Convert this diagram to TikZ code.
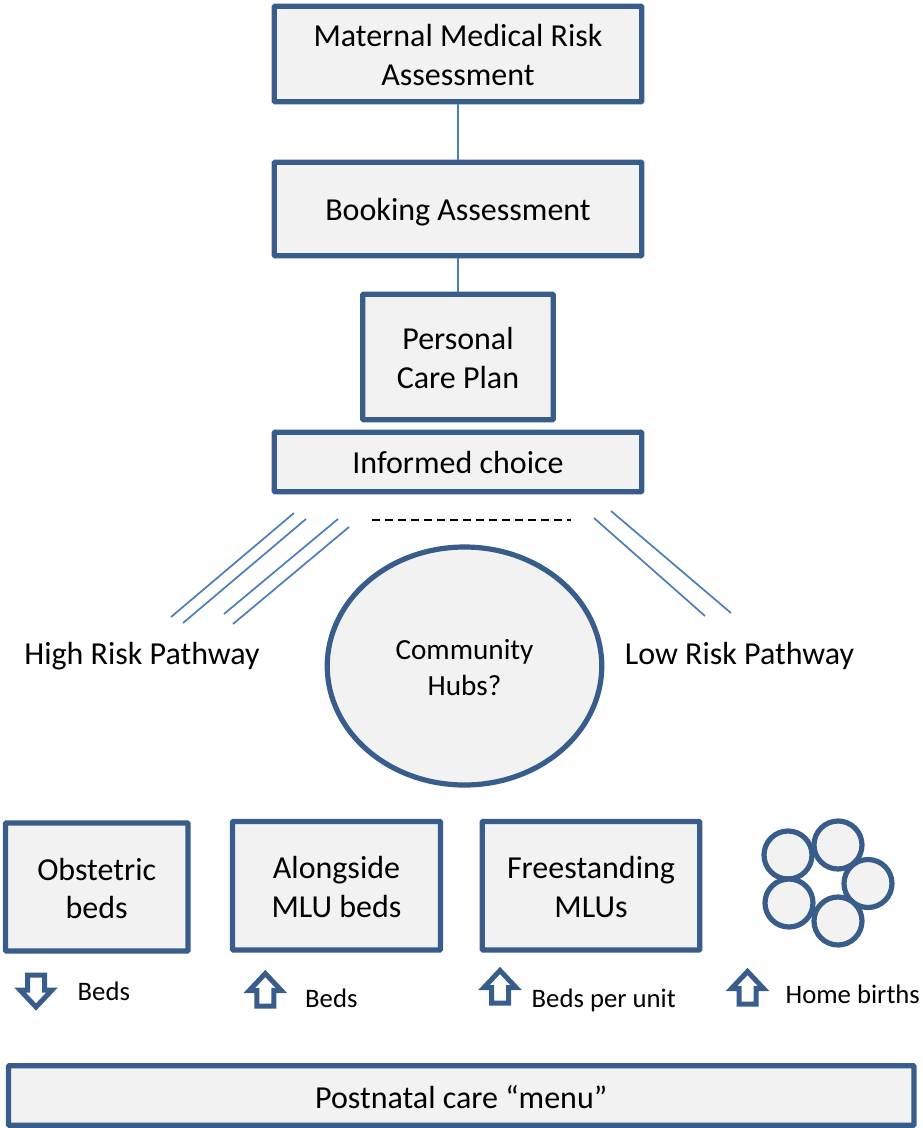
\documentclass[tikz,border=0pt]{standalone}
\usepackage{fontspec}
\setmainfont{Carlito}
\usetikzlibrary{shapes.geometric}
\definecolor{frame}{HTML}{385D8A}
\definecolor{boxfill}{HTML}{F2F2F2}
\definecolor{thin}{HTML}{4A7EBB}
\tikzset{
 x=1pt,y=-1pt,
 box/.style={draw=frame,fill=boxfill,line width=5.2pt,rounded corners=0.8pt,inner sep=0pt},
 boxtext/.style={inner sep=0pt,align=center,font=\fontsize{32}{38.5}\selectfont},
 hub/.style={ellipse,draw=frame,fill=boxfill,line width=5.2pt,inner sep=0pt},
 bead/.style={circle,draw=frame,fill=boxfill,line width=5.2pt,minimum size=48pt,inner sep=0pt},
 biglabel/.style={inner sep=0pt,font=\fontsize{32}{38}\selectfont},
 smalllabel/.style={inner sep=0pt,anchor=base west,font=\fontsize{26.7}{30}\selectfont},
 link/.style={draw=thin,line width=1.7pt},
 blockarrow/.style={draw=frame,fill=white,line width=5pt,miter limit=10},
}
\newcommand{\upblock}[2]{\draw[blockarrow,shift={(#1,#2)}] (0,0)--(16,17)--(8.5,17)--(8.5,32.5)--(-8.5,32.5)--(-8.5,17)--(-16,17)--cycle;}
\newcommand{\downblock}[2]{\draw[blockarrow,shift={(#1,#2)}] (0,0)--(16,-17)--(8.5,-17)--(8.5,-32)--(-8.5,-32)--(-8.5,-17)--(-16,-17)--cycle;}
\begin{document}
\begin{tikzpicture}
\useasboundingbox (0,0) rectangle (922,1128);
\node[box,minimum width=367.5pt,minimum height=95.5pt] (risk) at (458,54) {};
\node[boxtext] (risktext) at (458,55) {Maternal Medical Risk\\Assessment};
\node[box,minimum width=367.5pt,minimum height=93.5pt] (booking) at (458,209) {};
\node[boxtext] (bookingtext) at (458,212.5) {Booking Assessment};
\node[box,minimum width=190.5pt,minimum height=125.5pt] (plan) at (458,357) {};
\node[boxtext] (plantext) at (458,358) {Personal\\Care Plan};
\node[box,minimum width=367.5pt,minimum height=59.5pt] (choice) at (458,462) {};
\node[boxtext] (choicetext) at (458,462.5) {Informed choice};
\draw[link] (risk.south) -- (booking.north);
\draw[link] (booking.south) -- (plan.north);

\coordinate (h1a) at (171,617); \coordinate (h1b) at (294,513);
\coordinate (h2a) at (183,623); \coordinate (h2b) at (306,519);
\coordinate (h3a) at (224,614); \coordinate (h3b) at (338,519);
\coordinate (h4a) at (233,624); \coordinate (h4b) at (349,527);
\coordinate (l1a) at (594,518); \coordinate (l1b) at (705,616);
\coordinate (l2a) at (611,511); \coordinate (l2b) at (731,613);
\coordinate (da) at (372,520); \coordinate (db) at (571,520);
\draw[link] (h1a)--(h1b); \draw[link] (h2a)--(h2b);
\draw[link] (h3a)--(h3b); \draw[link] (h4a)--(h4b);
\draw[link] (l1a)--(l1b); \draw[link] (l2a)--(l2b);
\draw[black,line width=1.8pt,dash pattern=on 7.5pt off 5.5pt] (da)--(db);

\node[hub,minimum width=274.5pt,minimum height=238pt] (hub) at (464.5,666) {};
\node[inner sep=0pt,align=center,font=\fontsize{29.2}{36}\selectfont] (hubtext) at (464.5,667.5) {Community\\Hubs?};
\node[biglabel] (high) at (142,656) {High Risk Pathway};
\node[biglabel] (low) at (739.5,656) {Low Risk Pathway};

\node[box,minimum width=182.5pt,minimum height=128pt] (obst) at (96.7,887) {};
\node[boxtext] (obsttext) at (96.7,888.5) {Obstetric\\beds};
\node[box,minimum width=208pt,minimum height=128.5pt] (along) at (336.5,885.7) {};
\node[boxtext] (alongtext) at (336.5,887.2) {Alongside\\MLU beds};
\node[box,minimum width=217.5pt,minimum height=128.5pt] (free) at (591,885.7) {};
\node[boxtext] (freetext) at (591,887.2) {Freestanding\\MLUs};

\node[bead] (b1) at (788,855) {};
\node[bead] (b2) at (838,845) {};
\node[bead] (b3) at (868,883.5) {};
\node[bead] (b4) at (789,903) {};
\node[bead] (b5) at (838,921) {};

\downblock{36}{1007}
\upblock{265.3}{973.5}
\upblock{500}{970.5}
\upblock{747.5}{971.5}
\node[smalllabel] (beds1) at (77.5,1000.5) {Beds};
\node[smalllabel] (beds2) at (305,1007.5) {Beds};
\node[smalllabel] (beds3) at (531.5,1007.5) {Beds per unit};
\node[smalllabel] (beds4) at (785.5,1003.5) {Home births};

\node[box,minimum width=905.5pt,minimum height=59.5pt] (post) at (461.2,1095.5) {};
\node[boxtext] (posttext) at (461.2,1097) {Postnatal care “menu”};
\end{tikzpicture}
\end{document}
